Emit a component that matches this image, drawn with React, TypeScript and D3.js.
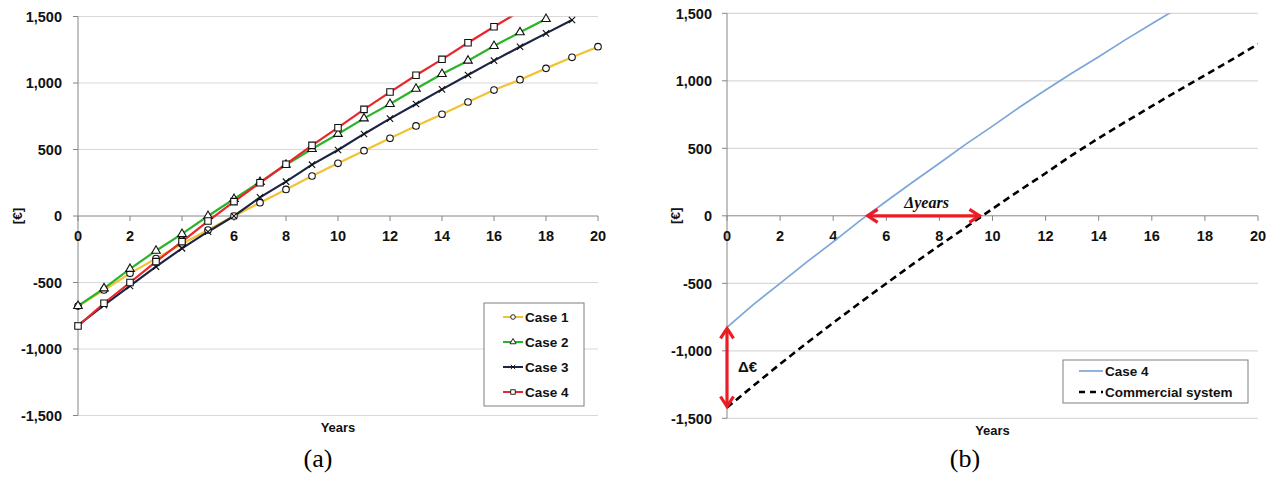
import React from 'react'
import * as d3 from 'd3'

// categories / ticks
const years = [0, 1, 2, 3, 4, 5, 6, 7, 8, 9, 10, 11, 12, 13, 14, 15, 16, 17, 18, 19, 20]
const xTicks = [0, 2, 4, 6, 8, 10, 12, 14, 16, 18, 20]
const yTicks = [-1500, -1000, -500, 0, 500, 1000, 1500]

// panel (a) series, value per year
const case1 = [-677, -556, -431, -320, -211, -105, 0, 100, 200, 301, 396, 491, 584, 677, 765, 857, 947, 1025, 1110, 1193, 1273]
const case2 = [-677, -544, -398, -261, -135, 0, 128, 255, 385, 504, 617, 734, 842, 957, 1068, 1168, 1278, 1381, 1481]
const case3 = [-822, -670, -526, -381, -243, -118, 0, 140, 258, 386, 496, 617, 732, 842, 952, 1060, 1168, 1273, 1373, 1474]
const case4 = [-827, -656, -500, -343, -193, -38, 108, 250, 389, 531, 664, 802, 932, 1058, 1178, 1303, 1423, 1540]

// panel (b)
const commercial = [-1420, -1258, -1098, -943, -793, -645, -501, -358, -220, -85, 52, 185, 315, 450, 575, 695, 812, 928, 1040, 1155, 1272]

const caseNames = ['Case 1', 'Case 2', 'Case 3', 'Case 4']
const bNames = ['Case 4', 'Commercial system']

const fmt = d3.formatLocale({ decimal: '.', thousands: ',', grouping: [3], currency: ['', ''], minus: '-' }).format(',')

const SANS = "'Liberation Sans', Arial, sans-serif"
const SERIF = "'Liberation Serif', 'Times New Roman', serif"
const RED = '#ec1c24'

const seriesA = [
  { name: caseNames[0], values: case1, color: '#f2c232', symbol: d3.symbolCircle, size: 34 },
  { name: caseNames[1], values: case2, color: '#2ab42a', symbol: d3.symbolTriangle, size: 32 },
  { name: caseNames[2], values: case3, color: '#1c2543', symbol: d3.symbolTimes, size: 28 },
  { name: caseNames[3], values: case4, color: '#e8262b', symbol: d3.symbolSquare, size: 42 },
]

function Frame({ x, y, labelRight, yLabelX, yearsY }: any) {
  const [x0, x1] = x.range()
  const [yb, yt] = y.range()
  return (
    <g fontFamily={SANS} fontWeight="bold">
      {yTicks.filter(t => t !== 0).map(t => (
        <line key={'g' + t} x1={x0} x2={x1} y1={y(t)} y2={y(t)} stroke="#d9d9d9" strokeWidth={1.2} />
      ))}
      <line x1={x0} x2={x0} y1={yt} y2={yb} stroke="#868686" />
      {yTicks.map(t => (
        <line key={'yt' + t} x1={x0 - 5} x2={x0} y1={y(t)} y2={y(t)} stroke="#868686" />
      ))}
      <line x1={x0} x2={x1} y1={y(0)} y2={y(0)} stroke="#868686" />
      {xTicks.map(t => (
        <line key={'xt' + t} x1={x(t)} x2={x(t)} y1={y(0)} y2={y(0) + 5} stroke="#868686" />
      ))}
      {yTicks.map(t => (
        <text key={'yl' + t} x={labelRight} y={y(t)} dy="0.36em" textAnchor="end" fontSize={14.5} fill="#111">{fmt(t)}</text>
      ))}
      {xTicks.map(t => (
        <text key={'xl' + t} x={x(t)} y={y(0) + 25} textAnchor="middle" fontSize={14.5} fill="#111">{t}</text>
      ))}
      <text transform={`translate(${yLabelX},${(yt + yb) / 2}) rotate(-90)`} textAnchor="middle" dy="0.36em" fontSize={13.5} fill="#111">[€]</text>
      <text x={(x0 + x1) / 2} y={yearsY} textAnchor="middle" fontSize={13} fill="#111">Years</text>
    </g>
  )
}

function Chevron({ tx, ty, dx, dy }: any) {
  // arrow head pointing in direction (dx, dy)
  const L = 10, Wd = 6.5
  const bx = tx - dx * L, by = ty - dy * L
  const px = -dy * Wd, py = dx * Wd
  return <path d={`M${bx + px},${by + py}L${tx},${ty}L${bx - px},${by - py}`} fill="none" stroke={RED} strokeWidth={3.2} strokeLinejoin="miter" />
}

function zeroCross(vals: number[]) {
  for (let i = 1; i < vals.length; i++) {
    if (vals[i - 1] < 0 && vals[i] >= 0) return years[i - 1] + (0 - vals[i - 1]) / (vals[i] - vals[i - 1])
  }
  return 0
}

export default function App() {
  const xa = d3.scaleLinear().domain([0, 20]).range([78, 598])
  const ya = d3.scaleLinear().domain([-1500, 1500]).range([415.5, 16.5])
  const xb = d3.scaleLinear().domain([0, 20]).range([727, 1258])
  const yb = d3.scaleLinear().domain([-1500, 1500]).range([418.3, 13.3])

  const lineA = d3.line<number>().x((_, i) => xa(years[i])).y(d => ya(d))
  const lineB = d3.line<number>().x((_, i) => xb(years[i])).y(d => yb(d))

  const c4x = xb(zeroCross(case4))
  const cmx = xb(zeroCross(commercial))
  const top4 = yb(case4[0])
  const botC = yb(commercial[0])

  return (
    <svg width={1275} height={479} style={{ position: 'absolute', left: 0, top: 0, background: '#fff' }}>
      <defs>
        <clipPath id="clipA"><rect x={78} y={16.5} width={520} height={399} /></clipPath>
        <clipPath id="clipB"><rect x={727} y={13.3} width={531} height={405} /></clipPath>
      </defs>

      {/* panel (a) */}
      <Frame x={xa} y={ya} labelRight={62} yLabelX={17} yearsY={432} />
      <g clipPath="url(#clipA)">
        {seriesA.map(s => (
          <path key={s.name} d={lineA(s.values) || ''} fill="none" stroke={s.color} strokeWidth={2.2} />
        ))}
      </g>
      {seriesA.map(s => (
        <g key={s.name + 'm'}>
          {s.values.map((v, i) => v <= 1500 ? (
            <path key={i} transform={`translate(${xa(years[i])},${ya(v)})`}
              d={d3.symbol().type(s.symbol).size(s.size)() || ''}
              fill="#fff" stroke="#111" strokeWidth={1.1} />
          ) : null)}
        </g>
      ))}
      <g>
        <rect x={484} y={303} width={100} height={103} fill="#fff" stroke="#7f7f7f" />
        {seriesA.map((s, i) => (
          <g key={s.name + 'l'} transform={`translate(0,${317 + i * 25})`}>
            <line x1={503} x2={523} stroke={s.color} strokeWidth={2} />
            <path transform="translate(513,0)" d={d3.symbol().type(s.symbol).size(s.size * 0.5)() || ''} fill="#fff" stroke="#111" strokeWidth={0.9} />
            <text x={525} dy="0.36em" fontFamily={SANS} fontWeight="bold" fontSize={13.5} fill="#111">{s.name}</text>
          </g>
        ))}
      </g>
      <text x={318} y={467} textAnchor="middle" fontFamily={SERIF} fontSize={26} fill="#000">(a)</text>

      {/* panel (b) */}
      <Frame x={xb} y={yb} labelRight={712} yLabelX={675} yearsY={435} />
      <g clipPath="url(#clipB)">
        <path d={lineB(case4) || ''} fill="none" stroke="#7ba6d8" strokeWidth={1.7} />
        <path d={lineB(commercial) || ''} fill="none" stroke="#000" strokeWidth={2.6} strokeDasharray="7,4.5" />
      </g>

      {/* Δyears arrow */}
      <line x1={c4x + 2} x2={cmx - 2} y1={yb(0)} y2={yb(0)} stroke={RED} strokeWidth={3.2} />
      <Chevron tx={c4x + 1} ty={yb(0)} dx={-1} dy={0} />
      <Chevron tx={cmx - 3} ty={yb(0)} dx={1} dy={0} />
      <text x={(c4x + cmx) / 2 + 2} y={yb(0) - 8} textAnchor="middle" fontFamily={SERIF} fontStyle="italic" fontWeight="bold" fontSize={16} fill="#111">Δyears</text>

      {/* Δ€ arrow */}
      <line x1={xb(0)} x2={xb(0)} y1={top4 + 2} y2={botC - 2} stroke={RED} strokeWidth={3.2} />
      <Chevron tx={xb(0)} ty={top4 + 1} dx={0} dy={-1} />
      <Chevron tx={xb(0)} ty={botC - 1} dx={0} dy={1} />
      <text x={738} y={372} fontFamily={SANS} fontWeight="bold" fontSize={15} fill="#111">Δ€</text>

      <g>
        <rect x={1063} y={360} width={185} height={43} fill="#fff" stroke="#7f7f7f" />
        <line x1={1079} x2={1103} y1={371} y2={371} stroke="#7ba6d8" strokeWidth={1.7} />
        <text x={1105} y={371} dy="0.36em" fontFamily={SANS} fontWeight="bold" fontSize={13.5} fill="#111">{bNames[0]}</text>
        <line x1={1079} x2={1103} y1={392} y2={392} stroke="#000" strokeWidth={2.4} strokeDasharray="6,5" />
        <text x={1105} y={392} dy="0.36em" fontFamily={SANS} fontWeight="bold" fontSize={13.5} fill="#111">{bNames[1]}</text>
      </g>
      <text x={965} y={467} textAnchor="middle" fontFamily={SERIF} fontSize={26} fill="#000">(b)</text>
    </svg>
  )
}
